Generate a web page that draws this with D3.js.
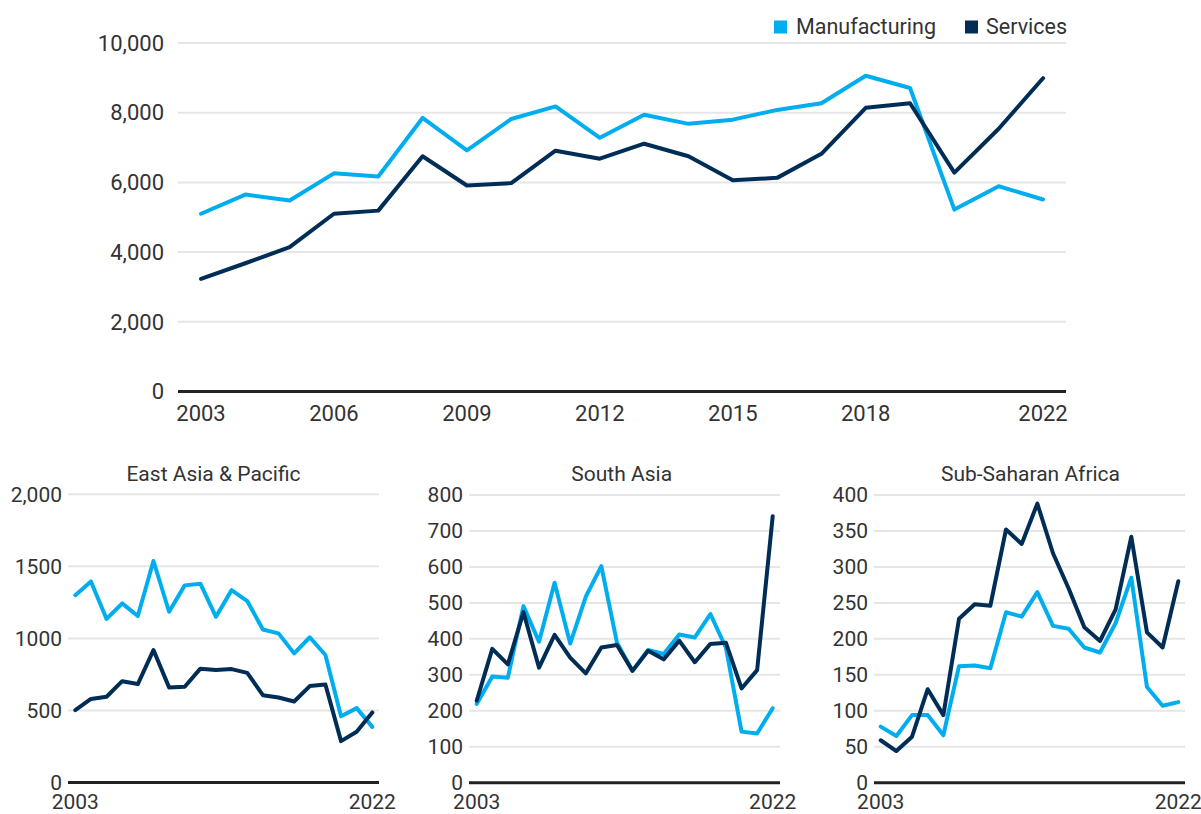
<!DOCTYPE html>
<html>
<head>
<meta charset="utf-8">
<script src="https://cdn.jsdelivr.net/npm/d3@7"></script>
<style>
  html, body { margin: 0; padding: 0; background: #fff; }
  svg { display: block; font-family: Roboto, "Noto Sans", sans-serif; }
</style>
</head>
<body>
<svg id="chart" width="1201" height="814"></svg>
<script>
// ---------- DATA ----------
const years = d3.range(2003, 2023);
const seriesNames = ["Manufacturing", "Services"];

// World totals
const worldManufacturing = [5100, 5650, 5480, 6260, 6170, 7850, 6920, 7820, 8180, 7280,
                            7940, 7680, 7800, 8080, 8270, 9060, 8710, 5220, 5890, 5510];
const worldServices      = [3230, 3680, 4140, 5100, 5190, 6750, 5910, 5980, 6910, 6680,
                            7110, 6750, 6060, 6130, 6820, 8140, 8270, 6280, 7540, 8990];

// East Asia & Pacific
const eapManufacturing = [1300, 1395, 1135, 1243, 1155, 1537, 1185, 1368, 1380, 1150,
                          1335, 1259, 1062, 1035, 896, 1008, 885, 460, 516, 386];
const eapServices      = [502, 580, 595, 703, 683, 919, 660, 664, 790, 780,
                          787, 761, 606, 590, 562, 669, 680, 287, 352, 486];

// South Asia
const saManufacturing = [219, 295, 292, 491, 392, 556, 387, 517, 602, 390,
                         311, 369, 358, 412, 404, 469, 375, 142, 137, 207];
const saServices      = [228, 372, 329, 474, 320, 411, 348, 304, 376, 383,
                         311, 367, 343, 395, 335, 386, 389, 262, 313, 741];

// Sub-Saharan Africa
const ssaManufacturing = [78, 65, 94, 94, 66, 162, 163, 159, 237, 231,
                          265, 218, 214, 188, 181, 222, 285, 133, 107, 112];
const ssaServices      = [59, 44, 64, 130, 94, 228, 248, 246, 352, 332,
                          388, 319, 270, 216, 197, 241, 342, 209, 188, 280];

// Tick labels
const worldYTicks = [0, 2000, 4000, 6000, 8000, 10000];
const worldXTicks = [2003, 2006, 2009, 2012, 2015, 2018, 2022];
const eapYTicks = [0, 500, 1000, 1500, 2000];
const eapYLabels = ["0", "500", "1000", "1500", "2,000"];
const saYTicks = [0, 100, 200, 300, 400, 500, 600, 700, 800];
const ssaYTicks = [0, 50, 100, 150, 200, 250, 300, 350, 400];
const smallXTicks = [2003, 2022];
const panelTitles = ["East Asia & Pacific", "South Asia", "Sub-Saharan Africa"];

// ---------- STYLE ----------
const colors = { Manufacturing: "#00aeef", Services: "#002d56" };
const textColor = "#333333";
const gridColor = "#e6e6e6";
const axisColor = "#222222";

const svg = d3.select("#chart");

function drawPanel(cfg) {
  const g = svg.append("g");
  const x = d3.scaleLinear().domain([2003, 2022]).range([cfg.px0, cfg.px1]);
  const y = d3.scaleLinear().domain([0, cfg.ymax]).range([cfg.y0, cfg.y1]);

  // gridlines
  g.append("g").selectAll("line")
    .data(cfg.yTicks.filter(d => d !== 0))
    .join("line")
    .attr("x1", cfg.gx0).attr("x2", cfg.gx1)
    .attr("y1", d => y(d)).attr("y2", d => y(d))
    .attr("stroke", gridColor).attr("stroke-width", 2);

  // y labels
  g.append("g").selectAll("text")
    .data(cfg.yTicks)
    .join("text")
    .attr("x", cfg.labelX)
    .attr("y", d => y(d))
    .attr("dy", "0.35em")
    .attr("text-anchor", "end")
    .attr("font-size", cfg.fontSize)
    .attr("fill", textColor)
    .text((d, i) => cfg.yLabels ? cfg.yLabels[i] : d3.format(",")(d));

  // x axis line
  g.append("line")
    .attr("x1", cfg.gx0).attr("x2", cfg.gx1)
    .attr("y1", y(0)).attr("y2", y(0))
    .attr("stroke", axisColor).attr("stroke-width", 3);

  // x labels
  g.append("g").selectAll("text")
    .data(cfg.xTicks)
    .join("text")
    .attr("x", d => x(d))
    .attr("y", cfg.xLabelY)
    .attr("text-anchor", "middle")
    .attr("font-size", cfg.fontSize)
    .attr("fill", textColor)
    .text(d => d);

  // lines
  const line = d3.line().x((d, i) => x(years[i])).y(d => y(d));
  cfg.series.forEach(s => {
    g.append("path")
      .datum(s.values)
      .attr("d", line)
      .attr("fill", "none")
      .attr("stroke", colors[s.name])
      .attr("stroke-width", 4)
      .attr("stroke-linejoin", "round")
      .attr("stroke-linecap", "round");
  });

  if (cfg.title) {
    g.append("text")
      .attr("x", cfg.titleX)
      .attr("y", cfg.titleY)
      .attr("text-anchor", "middle")
      .attr("font-size", cfg.fontSize)
      .attr("fill", textColor)
      .text(cfg.title);
  }
}

// World panel
drawPanel({
  px0: 201, px1: 1043, y0: 391.5, y1: 43, ymax: 10000,
  gx0: 178, gx1: 1066, labelX: 164, xLabelY: 421,
  yTicks: worldYTicks, xTicks: worldXTicks, fontSize: 22,
  series: [
    { name: "Manufacturing", values: worldManufacturing },
    { name: "Services", values: worldServices }
  ]
});

// Legend
const legend = svg.append("g");
const legendItems = [
  { name: seriesNames[0], sx: 774, tx: 796 },
  { name: seriesNames[1], sx: 965, tx: 986 }
];
legendItems.forEach(it => {
  legend.append("rect")
    .attr("x", it.sx).attr("y", 20.5)
    .attr("width", 13).attr("height", 13)
    .attr("fill", colors[it.name]);
  legend.append("text")
    .attr("x", it.tx).attr("y", 33.5)
    .attr("font-size", 21.5)
    .attr("fill", textColor)
    .text(it.name);
});

// Small panels
drawPanel({
  px0: 75.3, px1: 372.3, y0: 782.5, y1: 494.3, ymax: 2000,
  gx0: 68, gx1: 379, labelX: 62, xLabelY: 809,
  yTicks: eapYTicks, yLabels: eapYLabels, xTicks: smallXTicks, fontSize: 21,
  title: panelTitles[0], titleX: 213.5, titleY: 480.5,
  series: [
    { name: "Manufacturing", values: eapManufacturing },
    { name: "Services", values: eapServices }
  ]
});

drawPanel({
  px0: 476.7, px1: 772.7, y0: 782.7, y1: 495, ymax: 800,
  gx0: 469, gx1: 780, labelX: 463, xLabelY: 809,
  yTicks: saYTicks, xTicks: smallXTicks, fontSize: 21,
  title: panelTitles[1], titleX: 621.7, titleY: 480.5,
  series: [
    { name: "Manufacturing", values: saManufacturing },
    { name: "Services", values: saServices }
  ]
});

drawPanel({
  px0: 880.7, px1: 1178.3, y0: 782.7, y1: 495, ymax: 400,
  gx0: 874, gx1: 1185, labelX: 868, xLabelY: 809,
  yTicks: ssaYTicks, xTicks: smallXTicks, fontSize: 21,
  title: panelTitles[2], titleX: 1030.5, titleY: 480.5,
  series: [
    { name: "Manufacturing", values: ssaManufacturing },
    { name: "Services", values: ssaServices }
  ]
});
</script>
</body>
</html>
